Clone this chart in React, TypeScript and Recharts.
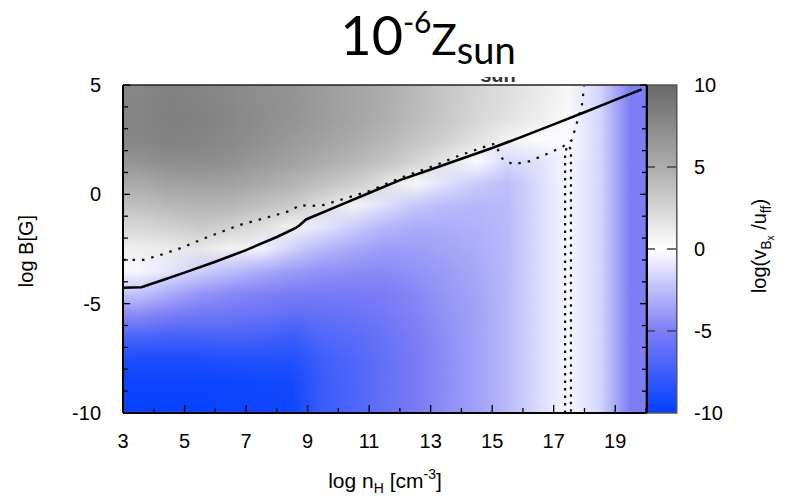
import React from 'react';
import { ComposedChart, XAxis, YAxis, Line, ReferenceArea, ReferenceLine } from 'recharts';

// axes
const xTicks = [3, 4, 5, 6, 7, 8, 9, 10, 11, 12, 13, 14, 15, 16, 17, 18, 19, 20];
const yTicks = [-10, -9, -8, -7, -6, -5, -4, -3, -2, -1, 0, 1, 2, 3, 4, 5];
const cbTicks = [-10, -5, 0, 5, 10];

// heat map: cell centres and log(v_Bx/u_ff) (rows top to bottom)
const heatX = [3.5, 4.5, 5.5, 6.5, 7.5, 8.5, 9.5, 10.5, 11.5, 12.5, 13.5, 14.5, 15.5, 16.5, 17.5, 18.5, 19.5];
const heatY = [4.5, 3.5, 2.5, 1.5, 0.5, -0.5, -1.5, -2.5, -3.5, -4.5, -5.5, -6.5, -7.5, -8.5, -9.5];
const heatValues = [
  [7.8, 8.2, 8.0, 7.6, 7.2, 6.8, 6.2, 5.6, 5.0, 4.2, 3.4, 2.6, 2.0, 1.3, 0.5, -1.6, -5.0],
  [7.9, 8.3, 8.2, 7.8, 7.3, 6.8, 6.2, 5.6, 4.9, 4.1, 3.3, 2.5, 1.8, 1.1, 0.3, -1.6, -5.0],
  [7.8, 8.2, 8.0, 7.6, 7.0, 6.4, 5.8, 5.2, 4.4, 3.6, 2.8, 1.8, 0.8, 0.2, -0.2, -1.6, -5.0],
  [6.8, 7.3, 7.4, 7.0, 6.4, 5.8, 5.0, 4.4, 3.6, 2.6, 1.5, -0.2, -1.5, -1.2, -0.3, -1.6, -5.0],
  [5.2, 5.8, 6.0, 5.8, 5.2, 4.6, 3.8, 3.0, 1.8, 0.5, -1.2, -2.0, -2.5, -1.4, -0.3, -1.6, -5.0],
  [3.8, 4.3, 4.6, 4.4, 3.8, 3.2, 2.0, 0.8, -1.2, -2.2, -2.6, -2.8, -2.6, -1.4, -0.3, -1.6, -5.0],
  [2.4, 2.8, 3.2, 2.8, 2.0, 0.8, -1.0, -2.0, -2.8, -3.2, -3.2, -3.0, -2.7, -1.4, -0.3, -1.6, -5.0],
  [1.0, 1.2, 1.5, 0.8, -0.5, -1.8, -2.8, -3.4, -3.8, -3.8, -3.5, -3.2, -2.7, -1.4, -0.3, -1.6, -5.0],
  [-0.3, -1.0, -1.8, -2.5, -3.2, -3.8, -4.2, -4.4, -4.5, -4.2, -3.8, -3.4, -2.7, -1.4, -0.3, -1.6, -5.0],
  [-2.2, -3.2, -4.0, -4.5, -4.8, -5.0, -5.2, -5.2, -5.0, -4.6, -4.0, -3.5, -2.7, -1.4, -0.3, -1.6, -5.0],
  [-4.5, -5.0, -5.5, -5.6, -5.8, -6.2, -6.0, -5.8, -5.4, -4.8, -4.2, -3.6, -2.7, -1.4, -0.3, -1.6, -5.0],
  [-7.0, -7.2, -7.2, -7.0, -7.2, -7.6, -6.8, -6.4, -5.8, -5.0, -4.3, -3.6, -2.7, -1.4, -0.3, -1.6, -5.0],
  [-8.8, -8.8, -8.8, -8.6, -8.5, -8.6, -7.4, -6.8, -6.0, -5.2, -4.4, -3.6, -2.7, -1.4, -0.3, -1.6, -5.0],
  [-9.5, -9.5, -9.5, -9.4, -9.3, -9.2, -7.6, -7.0, -6.0, -5.2, -4.4, -3.6, -2.7, -1.4, -0.3, -1.6, -5.0],
  [-9.7, -9.7, -9.7, -9.6, -9.5, -9.4, -7.6, -7.0, -6.0, -5.2, -4.4, -3.6, -2.7, -1.4, -0.3, -1.6, -5.0],
];

// contour lines
const solidLine = [
  { x: 3, y: -4.27 }, { x: 3.6, y: -4.25 }, { x: 4.3, y: -3.92 }, { x: 5, y: -3.58 },
  { x: 6, y: -3.08 }, { x: 7, y: -2.55 }, { x: 8, y: -1.95 }, { x: 8.6, y: -1.55 },
  { x: 8.75, y: -1.4 }, { x: 8.95, y: -1.15 }, { x: 10, y: -0.53 }, { x: 11, y: 0.06 },
  { x: 12, y: 0.65 }, { x: 13, y: 1.14 }, { x: 14, y: 1.63 }, { x: 15, y: 2.12 },
  { x: 16, y: 2.65 }, { x: 17, y: 3.2 }, { x: 18, y: 3.75 }, { x: 19, y: 4.32 }, { x: 19.86, y: 4.8 },
];
const dottedUpper = [
  { x: 3, y: -3.0 }, { x: 3.66, y: -3.0 }, { x: 4.2, y: -2.78 }, { x: 4.85, y: -2.47 },
  { x: 5.83, y: -1.91 }, { x: 6.8, y: -1.4 }, { x: 7.78, y: -1.02 }, { x: 8.43, y: -0.76 },
  { x: 8.75, y: -0.49 }, { x: 9.08, y: -0.54 }, { x: 9.5, y: -0.49 }, { x: 10.2, y: -0.2 },
  { x: 11, y: 0.15 }, { x: 12, y: 0.74 }, { x: 13, y: 1.25 }, { x: 13.96, y: 1.79 },
  { x: 14.6, y: 2.1 }, { x: 15.1, y: 2.33 }, { x: 15.26, y: 1.8 }, { x: 15.36, y: 1.57 },
  { x: 15.69, y: 1.37 }, { x: 16.23, y: 1.52 }, { x: 16.77, y: 1.84 }, { x: 17.3, y: 2.18 },
  { x: 17.59, y: 2.48 }, { x: 17.75, y: 3.25 }, { x: 17.91, y: 4.0 }, { x: 17.99, y: 4.95 },
];
const dottedVertical = [
  { x: 17.37, y: -10 }, { x: 17.37, y: 1.8 }, { x: 17.42, y: 2.15 }, { x: 17.5, y: 2.22 },
  { x: 17.56, y: 2.0 }, { x: 17.56, y: -10 },
];

const colorStops: [number, number[]][] = [
  [-10, [0, 64, 255]],
  [-5, [125, 125, 245]],
  [0, [255, 255, 255]],
  [5, [172, 172, 172]],
  [10, [105, 105, 105]],
];

function colorOf(v: number) {
  for (let i = 0; i < colorStops.length - 1; i++) {
    const [a, ca] = colorStops[i];
    const [b, cb] = colorStops[i + 1];
    if (v <= b || i === colorStops.length - 2) {
      const t = Math.max(0, Math.min(1, (v - a) / (b - a)));
      const c = ca.map((k, j) => Math.round(k + (cb[j] - k) * t));
      return `rgb(${c[0]},${c[1]},${c[2]})`;
    }
  }
  return '#fff';
}

const FONT = 'Liberation Sans, Arial, sans-serif';
const frame = { stroke: '#000', strokeWidth: 2 };
const TM = 21; // gap between axis line and tick label

// ticks point into the plot, as in the original
function BottomTick(p: any) {
  const v = p.payload.value;
  const axisY = p.y - TM;
  const odd = v % 2 === 1;
  return (
    <g>
      <line x1={p.x} x2={p.x} y1={axisY} y2={axisY - (odd ? 8 : 5)} stroke="#000" strokeWidth={1.3} />
      {odd && (
        <text x={p.x} y={p.y} dy="0.71em" textAnchor="middle" fontSize={20} fontFamily={FONT} fill="#000">{v}</text>
      )}
    </g>
  );
}
function TopTick(p: any) {
  const v = p.payload.value;
  const axisY = p.y + TM;
  return <line x1={p.x} x2={p.x} y1={axisY} y2={axisY + (v % 2 === 1 ? 8 : 5)} stroke="#000" strokeWidth={1.3} />;
}
function LeftTick(p: any) {
  const v = p.payload.value;
  const axisX = p.x + TM;
  const major = v % 5 === 0;
  return (
    <g>
      <line x1={axisX} x2={axisX + (major ? 7 : 5)} y1={p.y} y2={p.y} stroke="#000" strokeWidth={1.3} />
      {major && (
        <text x={p.x - 1} y={p.y} dy="0.355em" textAnchor="end" fontSize={20} fontFamily={FONT} fill="#000">{v}</text>
      )}
    </g>
  );
}
function RightTick(p: any) {
  const v = p.payload.value;
  const axisX = p.x - TM;
  return <line x1={axisX} x2={axisX - (v % 5 === 0 ? 7 : 5)} y1={p.y} y2={p.y} stroke="#000" strokeWidth={1.3} />;
}
function BarTick(p: any) {
  return (
    <text x={p.x} y={p.y} dy="0.355em" textAnchor="start" fontSize={20} fontFamily={FONT} fill="#000">{p.payload.value}</text>
  );
}

export default function App() {
  const last = heatY.length - 1;
  return (
    <div style={{ position: 'absolute', left: 0, top: 0, width: 794, height: 499, background: '#fff' }}>
      <svg width={0} height={0} style={{ position: 'absolute' }}>
        <defs>
          {heatValues.map((row, k) => (
            <linearGradient key={k} id={`row${k}`} x1="0" y1="0" x2="1" y2="0">
              {row.map((v, i) => (
                <stop key={i} offset={(heatX[i] - 3) / 17} stopColor={colorOf(v)} />
              ))}
            </linearGradient>
          ))}
          <linearGradient id="rampMidGrad" x1="0" y1="0" x2="0" y2="1">
            <stop offset="0" stopColor="#000" />
            <stop offset="0.5" stopColor="#fff" />
          </linearGradient>
          <linearGradient id="rampLastGrad" x1="0" y1="0" x2="0" y2="1">
            <stop offset="0" stopColor="#000" />
            <stop offset="0.6667" stopColor="#fff" />
          </linearGradient>
          <mask id="rampMid" maskUnits="objectBoundingBox" maskContentUnits="objectBoundingBox" x="0" y="0" width="1" height="1">
            <rect x="0" y="0" width="1" height="1" fill="url(#rampMidGrad)" />
          </mask>
          <mask id="rampLast" maskUnits="objectBoundingBox" maskContentUnits="objectBoundingBox" x="0" y="0" width="1" height="1">
            <rect x="0" y="0" width="1" height="1" fill="url(#rampLastGrad)" />
          </mask>
          <linearGradient id="cbGrad" x1="0" y1="0" x2="0" y2="1">
            {cbTicks.slice().reverse().map((v, i) => (
              <stop key={v} offset={i / 4} stopColor={colorOf(v)} />
            ))}
          </linearGradient>
        </defs>
      </svg>

      <ComposedChart width={794} height={499} margin={{ top: 84, right: 146, bottom: 46, left: 63 }}>
        {heatY.map((yc, k) => {
          const top = k === 0 ? 5 : heatY[k - 1];
          const bottom = k === last ? -10 : heatY[k + 1];
          const mask = k === 0 ? undefined : k === last ? 'url(#rampLast)' : 'url(#rampMid)';
          return (
            <ReferenceArea
              key={`row${k}`}
              x1={3}
              x2={20}
              y1={bottom}
              y2={top}
              ifOverflow="visible"
              shape={(p: any) => (
                <rect x={p.x} y={p.y} width={p.width} height={p.height} fill={`url(#row${k})`} mask={mask} />
              )}
            />
          );
        })}

        <ReferenceArea
          yAxisId="cb"
          x1={20}
          x2={21}
          y1={-10}
          y2={10}
          ifOverflow="visible"
          shape={(p: any) => (
            <rect x={p.x} y={p.y} width={p.width} height={p.height} fill="url(#cbGrad)" stroke="#555" strokeWidth={1.5} />
          )}
        />
        {[5, 0, -5].map((v) => (
          <ReferenceLine
            key={`cb${v}`}
            yAxisId="cb"
            segment={[{ x: 20, y: v }, { x: 21, y: v }]}
            stroke="#444"
            strokeWidth={1.5}
            strokeDasharray="9 12"
            ifOverflow="visible"
          />
        ))}

        <Line data={dottedUpper} dataKey="y" type="linear" stroke="#111" strokeWidth={2.2} strokeDasharray="2.5 7" dot={false} activeDot={false} isAnimationActive={false} />
        <Line data={dottedVertical} dataKey="y" type="linear" stroke="#111" strokeWidth={2.2} strokeDasharray="2.5 5" dot={false} activeDot={false} isAnimationActive={false} />
        <Line data={solidLine} dataKey="y" type="linear" stroke="#000" strokeWidth={2.6} dot={false} activeDot={false} isAnimationActive={false} />

        <XAxis
          type="number"
          dataKey="x"
          domain={[3, 20]}
          allowDataOverflow
          ticks={xTicks}
          interval={0}
          height={40}
          tickSize={0}
          tickMargin={TM}
          tick={<BottomTick />}
          axisLine={frame}
          tickLine={false}
        />
        <XAxis
          xAxisId="t"
          orientation="top"
          type="number"
          domain={[3, 20]}
          allowDataOverflow
          ticks={xTicks}
          interval={0}
          height={1}
          tickSize={0}
          tickMargin={TM}
          tick={<TopTick />}
          axisLine={{ stroke: '#222', strokeWidth: 1.5 }}
          tickLine={false}
        />
        <YAxis
          type="number"
          domain={[-10, 5]}
          allowDataOverflow
          ticks={yTicks}
          interval={0}
          width={60}
          tickSize={0}
          tickMargin={TM}
          tick={<LeftTick />}
          axisLine={frame}
          tickLine={false}
        />
        <YAxis
          yAxisId="r"
          orientation="right"
          type="number"
          domain={[-10, 5]}
          allowDataOverflow
          ticks={yTicks}
          interval={0}
          width={1}
          tickSize={0}
          tickMargin={TM}
          tick={<RightTick />}
          axisLine={frame}
          tickLine={false}
        />
        <YAxis
          yAxisId="cb"
          orientation="right"
          type="number"
          domain={[-10, 10]}
          allowDataOverflow
          ticks={cbTicks}
          interval={0}
          width={1}
          tickSize={0}
          tickMargin={48}
          tick={<BarTick />}
          axisLine={false}
          tickLine={false}
        />
      </ComposedChart>

      <svg width={794} height={499} style={{ position: 'absolute', left: 0, top: 0, pointerEvents: 'none' }}>
        <defs>
          <clipPath id="ghostClip">
            <rect x={470} y={77} width={60} height={6} />
          </clipPath>
        </defs>
        <text x={428} y={55} textAnchor="middle" fontFamily="Lato, 'Open Sans', sans-serif" fill="#000">
          <tspan fontSize={54}>10</tspan>
          <tspan fontSize={30} dy={-22}>-6</tspan>
          <tspan fontSize={42} dy={22}>Z</tspan>
          <tspan fontSize={38} dy={9}>sun</tspan>
        </text>
        <text x={498} y={82} textAnchor="middle" fontSize={20} fontFamily={FONT} fontWeight="bold" fill="#333" clipPath="url(#ghostClip)">
          sun
        </text>
        <text transform="translate(33,251) rotate(-90)" textAnchor="middle" fontSize={20} fontFamily={FONT} fill="#000">
          log B[G]
        </text>
        <text x={385} y={488} textAnchor="middle" fontSize={21} fontFamily={FONT} fill="#000">
          log n<tspan fontSize={14} dy={5}>H</tspan>
          <tspan dy={-5}> [cm</tspan>
          <tspan fontSize={14} dy={-9}>-3</tspan>
          <tspan dy={9}>]</tspan>
        </text>
        <text transform="translate(766,246) rotate(-90)" textAnchor="middle" fontSize={20} fontFamily={FONT} fill="#000">
          log(v<tspan fontSize={14} dy={5}>B</tspan>
          <tspan fontSize={10} dy={3}>x</tspan>
          <tspan dy={-8}> /u</tspan>
          <tspan fontSize={14} dy={5}>ff</tspan>
          <tspan dy={-5}>)</tspan>
        </text>
      </svg>
    </div>
  );
}
